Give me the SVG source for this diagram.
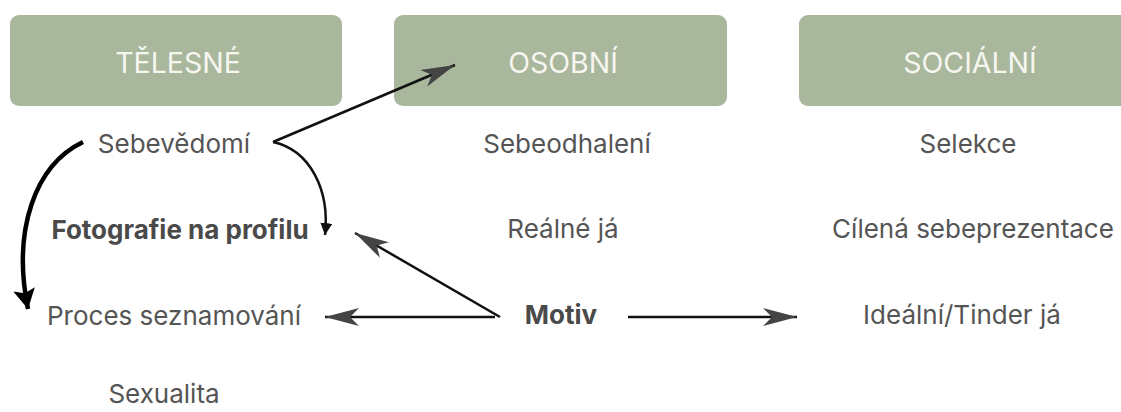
<svg xmlns="http://www.w3.org/2000/svg" width="1121" height="412" viewBox="0 0 1121 412">
<style>
.box{fill:#a9b79c}
.hd{font-family:Inter,"Liberation Sans",sans-serif;font-size:28.5px;fill:#f6f6f0;text-anchor:middle}
.t{font-family:Inter,"Liberation Sans",sans-serif;font-size:26px;fill:#555;text-anchor:middle}
.b{font-weight:bold;fill:#4a4a4a}
.ln{fill:none;stroke:#111;stroke-width:2.5}
.thick{stroke:#000;stroke-width:4.5}
</style>
<defs>
<marker id="ah" markerUnits="userSpaceOnUse" markerWidth="36" markerHeight="20" refX="34" refY="9" orient="auto" viewBox="0 0 36 20">
<path d="M0,0 L34,9 L0,18 L9,9 z" fill="#444"/>
</marker>
<marker id="sm" markerUnits="userSpaceOnUse" markerWidth="14" markerHeight="14" refX="12" refY="6" orient="auto" viewBox="0 0 14 14">
<path d="M0,0 L12,6 L0,12 z" fill="#111"/>
</marker>
<marker id="bg" markerUnits="userSpaceOnUse" markerWidth="22" markerHeight="24" refX="20" refY="11" orient="auto" viewBox="0 0 22 24">
<path d="M0,0 L20,11 L0,22 L4,11 z" fill="#000"/>
</marker>
</defs>
<g id="telesne"><rect class="box" x="10" y="15" width="332" height="91" rx="9"/><text class="hd" x="178" y="73">TĚLESNÉ</text></g>
<g id="osobni"><rect class="box" x="394" y="15" width="333" height="91" rx="9"/><text class="hd" x="563" y="73">OSOBNÍ</text></g>
<g id="socialni"><rect class="box" x="799" y="15" width="340" height="91" rx="9"/><text class="hd" x="970" y="73">SOCIÁLNÍ</text></g>
<g id="sebevedomi"><text class="t" x="174" y="153">Sebevědomí</text></g>
<g id="sebeodhaleni"><text class="t" x="567" y="153">Sebeodhalení</text></g>
<g id="selekce"><text class="t" x="968" y="153">Selekce</text></g>
<g id="fotografie"><text class="t b" x="180" y="239">Fotografie na profilu</text></g>
<g id="realne"><text class="t" x="563" y="238">Reálné já</text></g>
<g id="cilena"><text class="t" x="973" y="238">Cílená sebeprezentace</text></g>
<g id="proces"><text class="t" x="174" y="325">Proces seznamování</text></g>
<g id="motiv"><text class="t b" x="561" y="324">Motiv</text></g>
<g id="idealni"><text class="t" x="962" y="324">Ideální/Tinder já</text></g>
<g id="sexualita"><text class="t" x="164" y="403">Sexualita</text></g>
<g id="connectors">
<path class="ln" d="M273,142 L455,65" marker-end="url(#ah)"/>
<path class="ln" d="M273,142 C310,150 330,190 325,235" marker-end="url(#sm)"/>
<path class="ln thick" d="M83,142 C35,165 12,230 28,309" marker-end="url(#bg)"/>
<path class="ln" d="M500,317 L355,233" marker-end="url(#ah)"/>
<path class="ln" d="M495,317 L325,317" marker-end="url(#ah)"/>
<path class="ln" d="M628,317 L797,317" marker-end="url(#ah)"/>
</g>
</svg>
